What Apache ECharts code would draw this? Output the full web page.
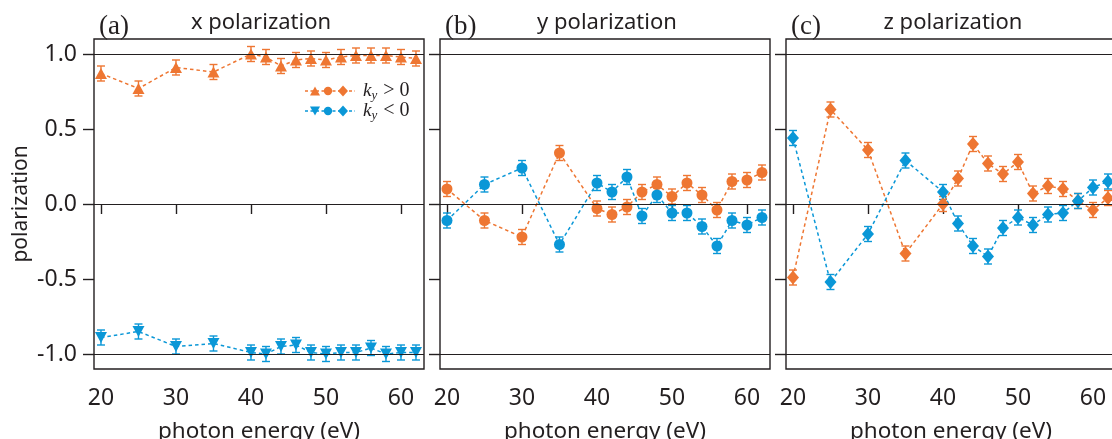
<!DOCTYPE html>
<html>
<head>
<meta charset="utf-8">
<script src="https://cdn.jsdelivr.net/npm/echarts@6/dist/echarts.min.js"></script>
<style>
  html, body { margin: 0; padding: 0; background: #fff; }
  #chart { width: 1112px; height: 439px; }
</style>
</head>
<body>
<div id="chart"></div>
<script>
// Photon energies (eV) at which the spin polarization was measured
const energies = [20, 25, 30, 35, 40, 42, 44, 46, 48, 50, 52, 54, 56, 58, 60, 62];

// x component, k_y > 0 and k_y < 0
const xPolPos = [0.87, 0.77, 0.91, 0.88, 1.00, 0.98, 0.92, 0.96, 0.97, 0.96, 0.98, 0.99, 0.99, 0.99, 0.98, 0.97];
const xPolNeg = [-0.89, -0.85, -0.95, -0.93, -0.99, -1.00, -0.95, -0.94, -0.99, -1.00, -0.99, -0.99, -0.96, -1.00, -0.99, -0.99];

// y component
const yPolPos = [0.10, -0.11, -0.22, 0.34, -0.03, -0.07, -0.02, 0.08, 0.13, 0.05, 0.14, 0.06, -0.04, 0.15, 0.16, 0.21];
const yPolNeg = [-0.11, 0.13, 0.24, -0.27, 0.14, 0.08, 0.18, -0.08, 0.06, -0.06, -0.06, -0.15, -0.28, -0.11, -0.14, -0.09];

// z component
const zPolPos = [-0.49, 0.63, 0.36, -0.33, 0.00, 0.17, 0.40, 0.27, 0.20, 0.28, 0.07, 0.12, 0.10, 0.02, -0.04, 0.04];
const zPolNeg = [0.44, -0.52, -0.20, 0.29, 0.08, -0.13, -0.28, -0.35, -0.16, -0.09, -0.14, -0.07, -0.06, 0.02, 0.11, 0.15];

// Half-width of the error bars (same uncertainty at every energy)
const polErr = [0.05, 0.05, 0.05, 0.05, 0.05, 0.05, 0.05, 0.05, 0.05, 0.05, 0.05, 0.05, 0.05, 0.05, 0.05, 0.05];

// Axis ticks
const energyTicks = [20, 30, 40, 50, 60];
const polTicks = [-1, -0.5, 0, 0.5, 1];
const referenceLevels = [1, 0, -1];

const ORANGE = '#EE7632';
const BLUE = '#0A97D7';
const INK = '#231F20';
const SANS = '"Noto Sans", "Open Sans", sans-serif';
const SERIF = '"Liberation Serif", "DejaVu Serif", serif';

const panels = [
  { tag: '(a)', title: 'x polarization', pos: xPolPos, neg: xPolNeg,
    posSymbol: 'triangle', negSymbol: 'triangle', posRotate: 0, negRotate: 180, size: [12, 11] },
  { tag: '(b)', title: 'y polarization', pos: yPolPos, neg: yPolNeg,
    posSymbol: 'circle', negSymbol: 'circle', posRotate: 0, negRotate: 0, size: [11, 11] },
  { tag: '(c)', title: 'z polarization', pos: zPolPos, neg: zPolNeg,
    posSymbol: 'diamond', negSymbol: 'diamond', posRotate: 0, negRotate: 0, size: [12, 14] }
];

const GRID_LEFT = [94, 440, 786];
const GRID_TOP = 39;
const GRID_SIZE = 330;

function pairs(vals) {
  return energies.map((e, i) => [e, vals[i]]);
}
function errRows(vals) {
  return energies.map((e, i) => [e, vals[i] - polErr[i], vals[i] + polErr[i]]);
}

function errorBar(color) {
  return function (params, api) {
    const x = api.value(0);
    const top = api.coord([x, api.value(2)]);
    const bot = api.coord([x, api.value(1)]);
    const hw = 4;
    const st = { stroke: color, lineWidth: 1.4 };
    return {
      type: 'group',
      children: [
        { type: 'line', shape: { x1: top[0], y1: top[1], x2: bot[0], y2: bot[1] }, style: st },
        { type: 'line', shape: { x1: top[0] - hw, y1: top[1], x2: top[0] + hw, y2: top[1] }, style: st },
        { type: 'line', shape: { x1: bot[0] - hw, y1: bot[1], x2: bot[0] + hw, y2: bot[1] }, style: st }
      ]
    };
  };
}

const grids = [], xAxes = [], yAxes = [], series = [], titles = [];

panels.forEach((p, k) => {
  const left = GRID_LEFT[k];
  grids.push({
    left: left, top: GRID_TOP, width: GRID_SIZE, height: GRID_SIZE,
    outerBoundsMode: 'none', containLabel: false,
    show: true, borderColor: INK, borderWidth: 1.4, backgroundColor: 'transparent'
  });
  xAxes.push({
    gridIndex: k, type: 'value', min: 19.07, max: 63.07,
    axisLine: { show: false },
    axisTick: { show: true, inside: false, length: 10, customValues: energyTicks,
                lineStyle: { color: INK, width: 1.4 } },
    axisLabel: { show: true, customValues: energyTicks, margin: 18,
                 fontFamily: SANS, fontSize: 23, color: INK },
    splitLine: { show: false },
    name: 'photon energy (eV)', nameLocation: 'middle', nameGap: 51,
    nameTextStyle: { fontFamily: SANS, fontSize: 22.5, color: INK }
  });
  yAxes.push({
    gridIndex: k, type: 'value', min: -1.1, max: 1.1,
    axisLine: { show: false },
    axisTick: { show: true, inside: false, length: 11, customValues: polTicks,
                lineStyle: { color: INK, width: 1.4 } },
    axisLabel: { show: k === 0, customValues: polTicks, margin: 17,
                 fontFamily: SANS, fontSize: 23, color: INK,
                 formatter: v => v.toFixed(1) },
    splitLine: { show: false },
    name: k === 0 ? 'polarization' : '', nameLocation: 'middle', nameGap: 62,
    nameTextStyle: { fontFamily: SANS, fontSize: 21, color: INK }
  });

  titles.push({
    text: p.tag, left: left, top: 8,
    textStyle: { fontFamily: SERIF, fontSize: 27, fontWeight: 'normal', color: INK }
  });
  titles.push({
    text: p.title, left: left + GRID_SIZE / 2 - 3, top: 7, textAlign: 'center',
    textStyle: { fontFamily: SANS, fontSize: 22, fontWeight: 'normal', color: INK }
  });

  // horizontal reference levels at +1, 0, -1
  series.push({
    type: 'line', xAxisIndex: k, yAxisIndex: k, data: [], z: 1, silent: true,
    markLine: {
      silent: true, symbol: 'none', label: { show: false },
      lineStyle: { color: INK, width: 1.1, type: 'solid' },
      data: referenceLevels.map(v => ({ yAxis: v }))
    }
  });

  [
    { vals: p.pos, color: ORANGE, symbol: p.posSymbol, rot: p.posRotate, name: 'ky>0' },
    { vals: p.neg, color: BLUE, symbol: p.negSymbol, rot: p.negRotate, name: 'ky<0' }
  ].forEach(s => {
    series.push({
      type: 'custom', xAxisIndex: k, yAxisIndex: k, z: 2, silent: true,
      renderItem: errorBar(s.color),
      encode: { x: 0, y: [1, 2] },
      data: errRows(s.vals)
    });
    series.push({
      type: 'line', name: s.name, xAxisIndex: k, yAxisIndex: k, z: 3,
      data: pairs(s.vals),
      symbol: s.symbol, symbolSize: p.size, symbolRotate: s.rot, showAllSymbol: true,
      lineStyle: { color: s.color, width: 1.5, type: [3.5, 3] },
      itemStyle: { color: s.color, borderWidth: 0 },
      emphasis: { disabled: true }
    });
  });
});

// legend box drawn inside panel (a)
function legendRow(y, color, downTriangle, relation) {
  const tri = downTriangle
    ? [[310, y - 4.5], [320, y - 4.5], [315, y + 4.5]]
    : [[310, y + 4.5], [320, y + 4.5], [315, y - 4.5]];
  return {
    type: 'group',
    children: [
      { type: 'line', shape: { x1: 305, y1: y, x2: 355, y2: y },
        style: { stroke: color, lineWidth: 1.5, lineDash: [3, 2.5] } },
      { type: 'polygon', shape: { points: tri }, style: { fill: color } },
      { type: 'circle', shape: { cx: 328, cy: y, r: 4.2 }, style: { fill: color } },
      { type: 'polygon', shape: { points: [[343, y - 5.5], [348, y], [343, y + 5.5], [338, y]] },
        style: { fill: color } },
      { type: 'text', x: 363, y: y, style: {
          text: '{k|k}{s|y}{r| ' + relation + ' 0}',
          verticalAlign: 'middle',
          rich: {
            k: { fontFamily: SERIF, fontStyle: 'italic', fontSize: 19, fill: INK },
            s: { fontFamily: SERIF, fontStyle: 'italic', fontSize: 13, fill: INK, padding: [10, 1, 0, 0] },
            r: { fontFamily: SERIF, fontSize: 20, fill: INK }
          }
        } }
    ]
  };
}

const chart = echarts.init(document.getElementById('chart'), null, { renderer: 'canvas' });
chart.setOption({
  animation: false,
  backgroundColor: '#fff',
  title: titles,
  grid: grids,
  xAxis: xAxes,
  yAxis: yAxes,
  series: series,
  graphic: [legendRow(91, ORANGE, false, '>'), legendRow(111, BLUE, true, '<')]
});
</script>
</body>
</html>
